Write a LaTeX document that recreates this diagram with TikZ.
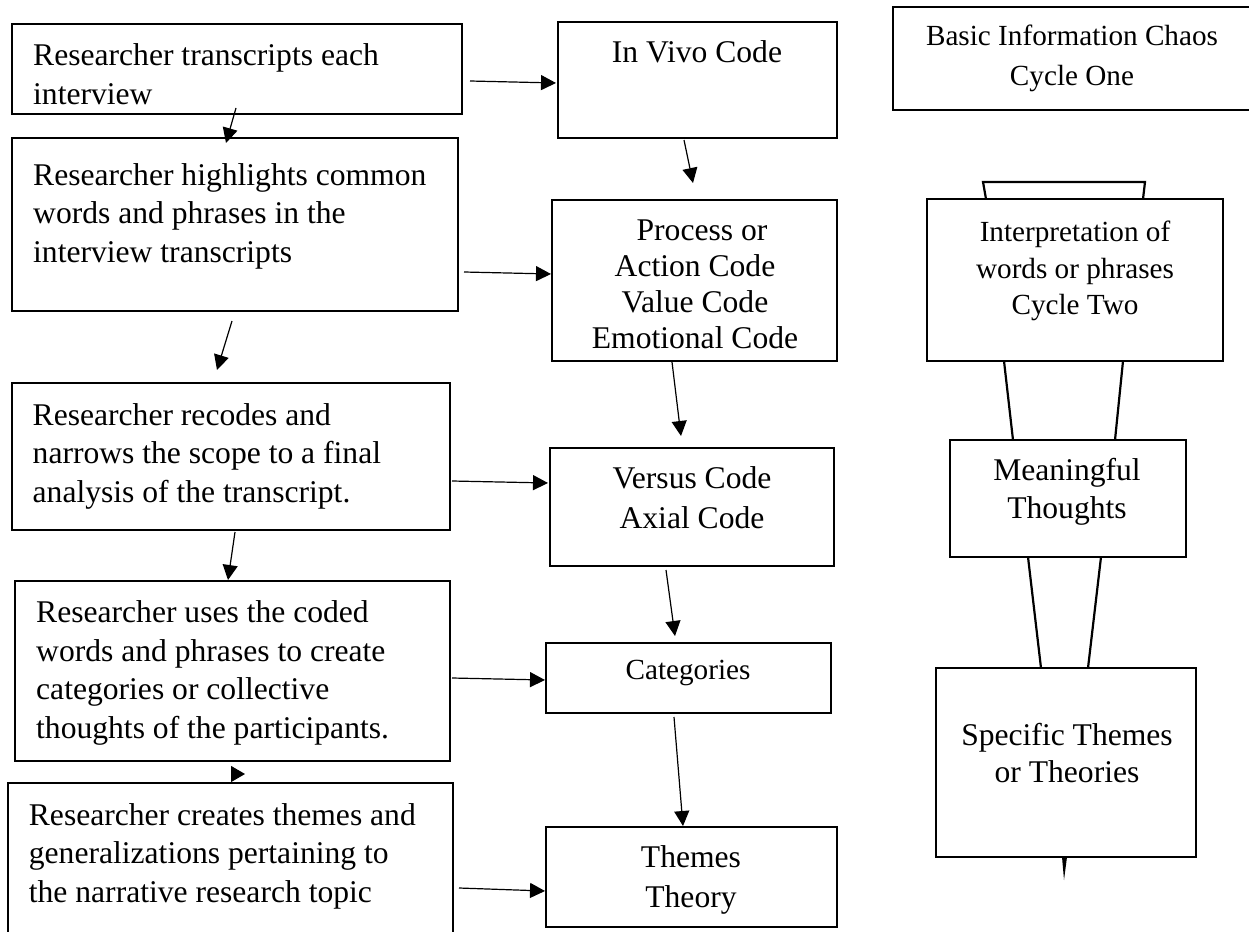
\documentclass[tikz,border=0pt]{standalone}
\usepackage{fontspec}
\setmainfont{Liberation Serif}
\usetikzlibrary{arrows.meta}
\begin{document}
\begin{tikzpicture}[x=1pt,y=-1pt,
  box/.style={draw=black,line width=2.2pt,fill=white,inner sep=0pt,outer sep=0pt,anchor=north west},
  arr/.style={line width=1.2pt,-{Triangle[length=15pt,width=15pt]}},
  funnel/.style={line width=2.2pt},
  ltxt/.style={inner sep=0pt,align=left,anchor=west,font=\fontsize{31.6}{38.5}\selectfont},
  ctxt/.style={inner sep=0pt,align=center,anchor=center},
]
\useasboundingbox (0,0) rectangle (1249,931);
\clip (0,0) rectangle (1249,931);
\fill[white] (0,0) rectangle (1249,931);

% right column funnel parts (behind boxes)
\coordinate (r2nw) at (927,199);
\draw[funnel] ([shift={(59,0)}]r2nw) -- ([shift={(56,-17)}]r2nw) -- ([shift={(218,-17)}]r2nw) -- ([shift={(216,0)}]r2nw);

% left column boxes
\node[box,minimum width=450pt,minimum height=90pt]  (b1) at (12,24) {};
\node[box,minimum width=446pt,minimum height=173pt] (b2) at (12,138) {};
\node[box,minimum width=438pt,minimum height=147pt] (b3) at (12,383) {};
\node[box,minimum width=435pt,minimum height=180pt] (b4) at (15,581) {};
\node[box,minimum width=445pt,minimum height=167pt] (b5) at (8,783) {};

% middle column boxes
\node[box,minimum width=279pt,minimum height=116pt] (c1) at (558,22) {};
\node[box,minimum width=285pt,minimum height=161pt] (c2) at (552,200) {};
\node[box,minimum width=284pt,minimum height=118pt] (c3) at (550,448) {};
\node[box,minimum width=285pt,minimum height=70pt]  (c4) at (546,643) {};
\node[box,minimum width=291pt,minimum height=100pt] (c5) at (546,827) {};

% right column boxes
\node[box,minimum width=367pt,minimum height=103pt] (r1) at (893,7) {};
\node[box,minimum width=296pt,minimum height=162pt] (r2) at (927,199) {};
\node[box,minimum width=236pt,minimum height=117pt] (r3) at (950,440) {};
\node[box,minimum width=260pt,minimum height=189pt] (r4) at (936,668) {};

% funnel lines between right boxes
\draw[funnel] ([shift={(77,0)}]r2.south west) -- ([shift={(63,0)}]r3.north west);
\draw[funnel] ([shift={(196,0)}]r2.south west) -- ([shift={(165,0)}]r3.north west);
\draw[funnel] ([shift={(78,0)}]r3.south west) -- ([shift={(105,0)}]r4.north west);
\draw[funnel] ([shift={(151,0)}]r3.south west) -- ([shift={(152,0)}]r4.north west);
\fill ([shift={(-4,0)}]r4.south) -- ([shift={(1,0)}]r4.south) -- ([shift={(-2,23)}]r4.south) -- cycle;

% left texts
\node[ltxt] (t1) at (33,74) {Researcher transcripts each\\interview};
\node[ltxt] (t2) at (33,216) {Researcher highlights common\\words and phrases in the\\interview transcripts};
\node[ltxt] (t3) at (32.5,456) {Researcher recodes and\\narrows the scope to a final\\analysis of the transcript.};
\node[ltxt] (t4) at (36,673) {Researcher uses the coded\\words and phrases to create\\categories or collective\\thoughts of the participants.};
\node[ltxt] (t5) at (28.7,856) {Researcher creates themes and\\generalizations pertaining to\\the narrative research topic};

% middle texts
\node[ctxt,font=\fontsize{31.6}{36}\selectfont] (u1) at (697,52) {In Vivo Code};
\node[ctxt,font=\fontsize{31.6}{36}\selectfont] (u2) at (695,284) {\hspace{14pt}Process or\\Action Code\\Value Code\\Emotional Code};
\node[ctxt,font=\fontsize{31.6}{40}\selectfont] (u3) at (692,498) {Versus Code\\Axial Code};
\node[ctxt,font=\fontsize{29.2}{36}\selectfont] (u4) at (688,673) {Categories};
\node[ctxt,font=\fontsize{31.6}{40}\selectfont] (u5) at (691,880) {Themes\\Theory};

% right texts
\node[ctxt,font=\fontsize{29.2}{40}\selectfont] (v1) at (1072,58) {Basic Information Chaos\\Cycle One};
\node[ctxt,font=\fontsize{29.2}{36.5}\selectfont] (v2) at (1075,271) {Interpretation of\\words or phrases\\Cycle Two};
\node[ctxt,font=\fontsize{31.6}{38}\selectfont] (v3) at (1067,492) {Meaningful\\Thoughts};
\node[ctxt,font=\fontsize{31.6}{37}\selectfont] (v4) at (1067,753) {Specific Themes\\or Theories};

% horizontal arrows left -> middle
\draw[arr] ([shift={(8,57)}]b1.north east) -- ([shift={(-2,61)}]c1.north west);
\draw[arr] ([shift={(6,134)}]b2.north east) -- ([shift={(-1,74)}]c2.north west);
\draw[arr] ([shift={(2,98)}]b3.north east) -- ([shift={(-2,35)}]c3.north west);
\draw[arr] ([shift={(2,97)}]b4.north east) -- ([shift={(-1,37)}]c4.north west);
\draw[arr] ([shift={(6,105)}]b5.north east) -- ([shift={(-1,64)}]c5.north west);

% vertical arrows left column
\draw[arr] ([shift={(224,-6)}]b1.south west) -- ([shift={(214,5)}]b2.north west);
\draw[arr] ([shift={(220,10)}]b2.south west) -- ([shift={(205,-13)}]b3.north west);
\draw[arr] ([shift={(223,2)}]b3.south west) -- ([shift={(213,-1)}]b4.north west);
\draw[line width=1.2pt,-{Triangle[length=14pt,width=16pt]}] ([shift={(216,13)}]b4.south west) -- ([shift={(237,-9)}]b5.north west);

% vertical arrows middle column
\draw[arr] ([shift={(126,2)}]c1.south west) -- ([shift={(141,-17)}]c2.north west);
\draw[arr] ([shift={(120,1)}]c2.south west) -- ([shift={(131,-12)}]c3.north west);
\draw[arr] ([shift={(116,4)}]c3.south west) -- ([shift={(129,-7)}]c4.north west);
\draw[arr] ([shift={(128,4)}]c4.south west) -- ([shift={(137,-1)}]c5.north west);
\end{tikzpicture}
\end{document}
